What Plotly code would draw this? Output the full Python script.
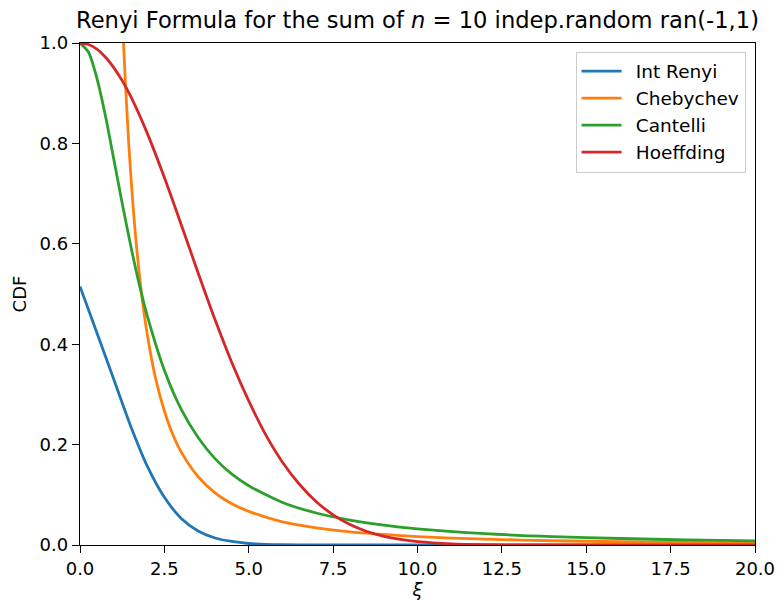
import plotly.graph_objects as go

# ---- data ----
renyi_x = [0, 0.5, 1.0, 1.5, 2.0, 2.5, 3.0, 3.5, 4.0, 4.5, 5.0, 5.5, 6.0, 7.0, 8.0, 10.0, 15.0, 20.0]
renyi_y = [0.515, 0.423, 0.330, 0.237, 0.156, 0.095, 0.053, 0.028, 0.014, 0.007, 0.003, 0.0012, 0.0005, 0.0001, 0.0, 0.0, 0.0, 0.0]

cheb_x = [1.1, 1.2, 1.29, 1.35, 1.45, 1.6, 1.8, 2.0, 2.25, 2.5, 2.75, 3.0, 3.5, 4.0, 4.5, 5.0, 6.0, 7.0, 8.0, 9.0, 10.0, 11.0, 12.0, 14.0, 16.0, 18.0, 20.0]
cheb_y = [1.378, 1.157, 1.0, 0.915, 0.793, 0.651, 0.514, 0.417, 0.329, 0.267, 0.220, 0.185, 0.136, 0.104, 0.082, 0.067, 0.046, 0.034, 0.026, 0.021, 0.0167, 0.0138, 0.0116, 0.0085, 0.0065, 0.0051, 0.0042]

cant_x = [0, 0.25, 0.5, 0.75, 1.0, 1.25, 1.5, 1.75, 2.0, 2.5, 3.0, 3.5, 4.0, 4.5, 5.0, 6.0, 7.0, 8.0, 9.0, 10.0, 12.0, 14.0, 16.0, 18.0, 20.0]
cant_y = [1.0, 0.982, 0.930, 0.856, 0.769, 0.681, 0.597, 0.521, 0.455, 0.348, 0.270, 0.214, 0.172, 0.141, 0.118, 0.0847, 0.0637, 0.0495, 0.0395, 0.0323, 0.0226, 0.0167, 0.0129, 0.0102, 0.0083]

hoef_x = [0, 0.25, 0.5, 0.75, 1.0, 1.25, 1.5, 2.0, 2.5, 3.0, 3.5, 4.0, 4.5, 5.0, 5.5, 6.0, 6.5, 7.0, 7.5, 8.0, 8.5, 9.0, 9.5, 10.0, 11.0, 12.0, 13.0, 14.0, 16.0, 20.0]
hoef_y = [1.0, 0.997, 0.988, 0.972, 0.951, 0.925, 0.894, 0.819, 0.732, 0.638, 0.542, 0.449, 0.363, 0.287, 0.220, 0.165, 0.121, 0.0863, 0.0601, 0.0408, 0.0270, 0.0174, 0.0110, 0.0067, 0.0024, 0.00075, 0.0002, 0.00006, 0.0, 0.0]

x_ticks = [0, 2.5, 5, 7.5, 10, 12.5, 15, 17.5, 20]
y_ticks = [0, 0.2, 0.4, 0.6, 0.8, 1.0]

series = [
    ("Int Renyi", renyi_x, renyi_y, "#1f77b4"),
    ("Chebychev", cheb_x, cheb_y, "#ff7f0e"),
    ("Cantelli", cant_x, cant_y, "#2ca02c"),
    ("Hoeffding", hoef_x, hoef_y, "#d62728"),
]

FONT = "DejaVu Sans"

fig = go.Figure()
for name, xs, ys, col in series:
    fig.add_trace(go.Scatter(
        x=xs, y=ys, name="\u2002" + name, mode="lines",
        line=dict(color=col, width=2.8, shape="spline", smoothing=0.7),
    ))

axis_common = dict(
    showline=True, mirror=True, linecolor="black", linewidth=1.3,
    ticks="outside", ticklen=7, tickwidth=1.3, tickcolor="black",
    showgrid=False, zeroline=False, automargin=False,
    tickfont=dict(family=FONT, size=18, color="black"),
)

fig.update_layout(
    width=778, height=601,
    margin=dict(l=80, r=23, t=43, b=56),
    paper_bgcolor="white", plot_bgcolor="white",
    font=dict(family=FONT, color="black"),
    title=dict(
        text="Renyi Formula for the sum of <i>n</i> = 10 indep.random ran(-1,1)",
        x=0.5, xref="paper", xanchor="center",
        y=1 - 20 / 601, yref="container", yanchor="middle",
        font=dict(family=FONT, size=22.6, color="black"),
        automargin=False,
    ),
    xaxis=dict(
        range=[0, 20], tickvals=x_ticks, tickformat=".1f",
        title=dict(text="<i>ξ</i>", font=dict(family=FONT, size=18), standoff=4),
        **axis_common,
    ),
    yaxis=dict(
        range=[0, 1], tickvals=y_ticks, tickformat=".1f",
        title=dict(text="CDF", font=dict(family=FONT, size=18), standoff=8),
        **axis_common,
    ),
    legend=dict(
        x=0.986, y=0.983, xanchor="right", yanchor="top",
        bgcolor="white", bordercolor="#cccccc", borderwidth=1,
        font=dict(family=FONT, size=18.5, color="black"),
        tracegroupgap=0, itemwidth=40,
    ),
    showlegend=True,
)

fig.write_html(
    "out.html",
    config={"displayModeBar": False},
    post_script="document.body.style.margin='0';document.body.style.overflow='hidden';",
)
